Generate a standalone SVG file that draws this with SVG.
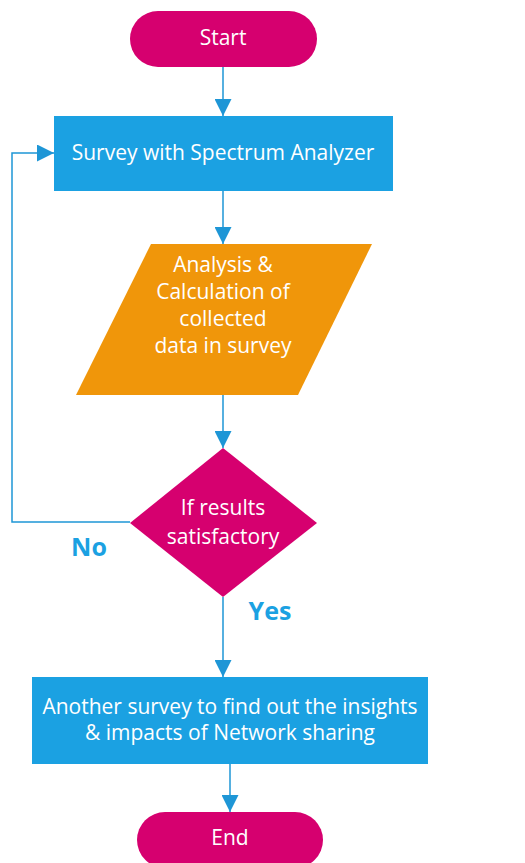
<svg xmlns="http://www.w3.org/2000/svg" width="525" height="863" viewBox="0 0 525 863">
<defs>
<style>
.t{font-family:"Open Sans","Noto Sans","DejaVu Sans",sans-serif;font-size:21px;fill:#fff;text-anchor:middle;dominant-baseline:central}
.lbl{font-family:"Open Sans","Noto Sans","DejaVu Sans",sans-serif;font-size:25px;font-weight:bold;fill:#1ba1e2;text-anchor:middle;dominant-baseline:central}
.c{fill:none;stroke:#1e96d6;stroke-width:1.5}
</style>
<marker id="ah" viewBox="0 0 10 10" refX="10" refY="5" markerWidth="17" markerHeight="17" markerUnits="userSpaceOnUse" orient="auto">
<path d="M0,0 L10,5 L0,10 z" fill="#1e96d6"/>
</marker>
</defs>
<rect width="525" height="863" fill="#fff"/>
<g id="connectors">
<line class="c" x1="223" y1="67" x2="223" y2="116" marker-end="url(#ah)"/>
<line class="c" x1="223" y1="191" x2="223" y2="244" marker-end="url(#ah)"/>
<line class="c" x1="223" y1="395" x2="223" y2="448" marker-end="url(#ah)"/>
<polyline class="c" points="130,522 12,522 12,153 54,153" marker-end="url(#ah)"/>
<line class="c" x1="223" y1="597" x2="223" y2="677" marker-end="url(#ah)"/>
<line class="c" x1="230" y1="764" x2="230" y2="812" marker-end="url(#ah)"/>
</g>
<g id="start">
<rect x="130" y="11" width="187" height="56" rx="28" fill="#d6006f"/>
<text class="t" x="223" y="37">Start</text>
</g>
<g id="survey">
<rect x="54" y="116" width="339" height="75" fill="#1ba1e2"/>
<text class="t" x="223" y="152">Survey with Spectrum Analyzer</text>
</g>
<g id="analysis">
<polygon points="151,244 372,244 298,395 76,395" fill="#f0960a"/>
<text class="t" x="223" y="264">Analysis &amp;</text>
<text class="t" x="223" y="291">Calculation of</text>
<text class="t" x="223" y="318">collected</text>
<text class="t" x="223" y="345">data in survey</text>
</g>
<g id="decision">
<polygon points="223,448 317,523 223,597 130,523" fill="#d6006f"/>
<text class="t" x="223" y="507">If results</text>
<text class="t" x="223" y="536">satisfactory</text>
</g>
<text class="lbl" x="89" y="546">No</text>
<text class="lbl" x="270" y="610">Yes</text>
<g id="another">
<rect x="32" y="677" width="396" height="87" fill="#1ba1e2"/>
<text class="t" x="230" y="706">Another survey to find out the insights</text>
<text class="t" x="230" y="732">&amp; impacts of Network sharing</text>
</g>
<g id="end">
<rect x="137" y="812" width="186" height="56" rx="28" fill="#d6006f"/>
<text class="t" x="230" y="837">End</text>
</g>
</svg>
